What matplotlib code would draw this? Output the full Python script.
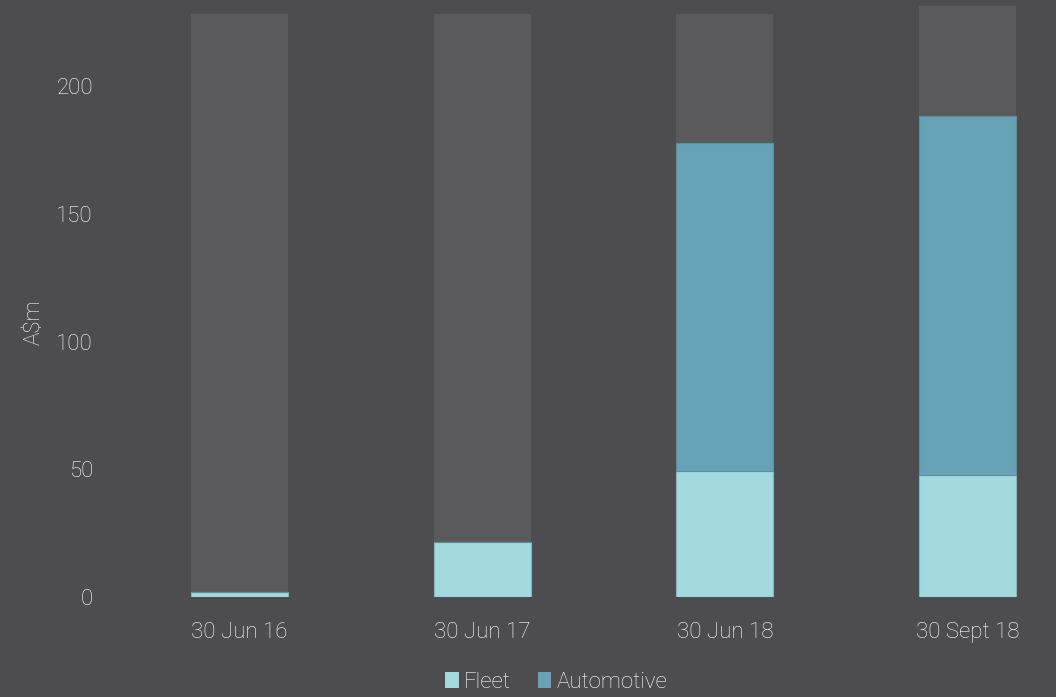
import matplotlib
matplotlib.use('Agg')
import matplotlib.pyplot as plt
from matplotlib.patches import Patch
import numpy as np

# 数据
dates = ['30 Jun 16', '30 Jun 17', '30 Jun 18', '30 Sept 18']
fleet = [1.8, 21.4, 49.3, 47.9]
automotive = [0.0, 0.0, 128.5, 140.5]
backdrop = [228.2, 228.2, 228.2, 231.3]  # 灰色背景柱
yticks = [0, 50, 100, 150, 200]

BG = '#4d4d4f'
COL_BG = '#5a5a5c'
FLEET_C = '#a2d9df'
AUTO_C = '#67a2b6'
TXT = '#ffffff'

plt.rcParams['font.family'] = ['Roboto', 'DejaVu Sans']

fig = plt.figure(figsize=(10.56, 6.97), dpi=100, facecolor=BG)
ax = fig.add_axes([0.0947, 0.1435, 0.9053, 0.8565])
ax.set_facecolor(BG)

x = np.arange(len(dates))
w = 0.4
ax.bar(x, backdrop, width=w, color=COL_BG, zorder=1)
ax.bar(x, fleet, width=w, color=FLEET_C, edgecolor='#7fb8c2', linewidth=0.8, zorder=2)
ax.bar(x, automotive, width=w, bottom=fleet, color=AUTO_C, edgecolor='#5a8fa0',
       linewidth=0.8, zorder=2)

ax.set_xlim(-0.575, 3.364)
ax.set_ylim(0, 233.7)
ax.set_xticks(x)
ax.set_xticklabels(dates)
ax.set_yticks(yticks)
for s in ax.spines.values():
    s.set_visible(False)
ax.tick_params(axis='both', length=0, colors=TXT, labelsize=16)
ax.tick_params(axis='x', pad=18)
ax.tick_params(axis='y', pad=5)
for t in ax.get_xticklabels() + ax.get_yticklabels():
    t.set_fontweight('light')

ax.set_ylabel('A$m', color=TXT, fontsize=16, fontweight='light')
ax.yaxis.set_label_coords(-0.0575, 0.46)

handles = [Patch(facecolor=FLEET_C), Patch(facecolor=AUTO_C)]
leg = fig.legend(handles, ['Fleet', 'Automotive'], loc='center',
                 bbox_to_anchor=(0.527, 1 - 682 / 697), ncol=2, frameon=False,
                 handlelength=0.6, handleheight=0.7, handletextpad=0.25,
                 columnspacing=1.2, fontsize=16)
for t in leg.get_texts():
    t.set_color(TXT)
    t.set_fontweight('light')

fig.savefig('out.png', dpi=100, facecolor=BG)
